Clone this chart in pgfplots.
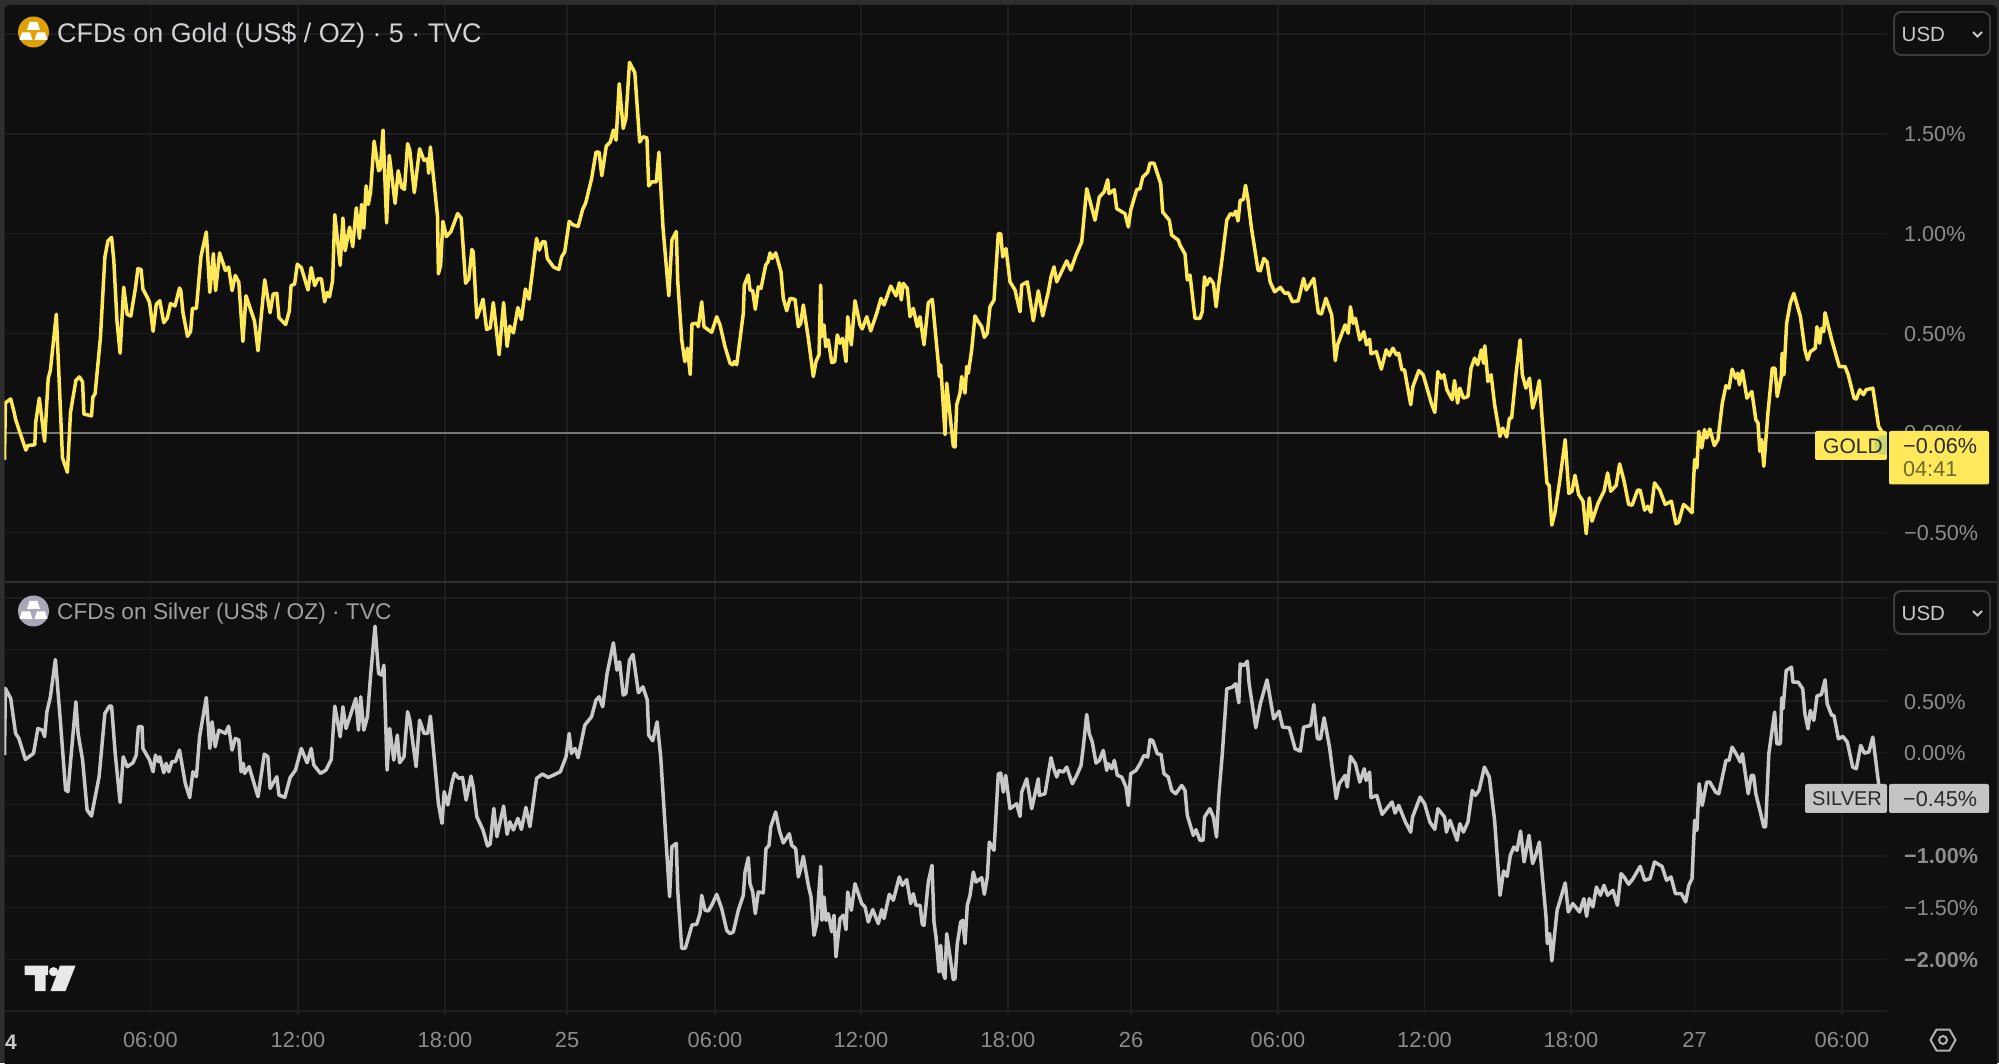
\documentclass[border=0pt]{standalone}
\usepackage{pgfplots}
\usepackage{pgfplotstable}
\usepackage{fontspec}
\setmainfont{Liberation Sans}
\pgfplotsset{compat=1.18}
\definecolor{bgmain}{HTML}{0F0F0F}
\definecolor{bgouter}{HTML}{2E2E2E}
\definecolor{gridc}{HTML}{1E1E1E}
\definecolor{sepc}{HTML}{2E2E2E}
\definecolor{goldline}{HTML}{FFE95A}
\definecolor{silverline}{HTML}{C8C8C8}
\definecolor{ticktxt}{HTML}{8C8C8C}
\definecolor{zeroline}{HTML}{787878}
\definecolor{cigold}{HTML}{E0A106}
\definecolor{cisilver}{HTML}{A9A7B8}
\definecolor{titlea}{HTML}{D1D1D6}
\definecolor{titleb}{HTML}{A0A0A0}
\definecolor{boxline}{HTML}{3C3C3C}
\definecolor{usdtxt}{HTML}{C8C8C8}
\definecolor{darktxt}{HTML}{2A2A2A}
\definecolor{dimtxt}{HTML}{6E6A28}
\definecolor{datetxt}{HTML}{C8C8C8}
\definecolor{iconc}{HTML}{B0B0B0}
\definecolor{silverbox}{HTML}{C4C4C4}
\definecolor{logoc}{HTML}{E8E8E8}
\definecolor{dotc}{HTML}{C8D76C}
\pgfplotstableread{
x v
4.5 -0.134
5.4 0.151
10.7 0.171
14.3 0.100
15.6 0.069
18.8 0.019
25.9 -0.086
27.7 -0.063
34.8 -0.059
35.7 0.053
39.3 0.175
44.6 -0.042
48.2 0.273
50.4 0.315
56.3 0.595
62.5 -0.125
67.4 -0.197
70.5 0.103
75.9 0.264
79.5 0.281
82.6 0.256
83.9 0.095
91.5 0.086
92.9 0.180
95.1 0.197
100.4 0.476
104.9 0.883
108 0.964
111.6 0.981
113.8 0.866
117 0.561
120.1 0.400
123.7 0.731
127.2 0.595
130.8 0.586
135.3 0.722
137.9 0.824
141.1 0.820
142.9 0.722
147.3 0.680
149.6 0.654
153.1 0.510
156.3 0.646
159.8 0.663
163.8 0.553
167.4 0.578
170.5 0.649
175 0.637
179.5 0.727
180.8 0.714
183 0.603
187.5 0.485
190.6 0.510
192.4 0.625
196.4 0.625
200.9 0.883
206.3 1.008
209.8 0.705
213.4 0.900
215.6 0.714
219.6 0.903
225.4 0.815
228.6 0.832
232.1 0.714
235.3 0.790
238.8 0.756
242.9 0.459
246 0.688
250 0.629
254.5 0.561
258 0.412
264.7 0.768
270.1 0.603
273.2 0.697
276.8 0.700
279 0.578
285.7 0.544
289.3 0.612
291.1 0.739
294.6 0.747
297.3 0.846
301.3 0.829
308 0.717
311.2 0.829
314.7 0.739
317.9 0.773
321.4 0.773
324.6 0.658
327.2 0.705
329.5 0.683
332.6 0.764
334.8 1.095
340.2 0.841
342.9 1.078
345.1 0.914
349.6 1.032
352.7 0.934
356.3 1.129
359.4 0.976
361.6 1.146
363.8 1.027
366.1 1.239
368.3 1.146
370.5 1.205
374.1 1.463
378.6 1.315
380.4 1.324
383 1.519
386.6 1.053
389.3 1.392
395.1 1.151
398.2 1.315
401.8 1.231
404.5 1.222
407.6 1.451
409.8 1.417
414.3 1.205
419.6 1.425
424.1 1.366
427.7 1.375
428.6 1.303
430.4 1.434
437.5 1.086
438.4 0.798
440.6 0.841
442.9 1.061
446.4 0.985
450.9 1.010
457.6 1.100
461.2 1.078
465.6 0.751
468.8 0.773
471.9 0.920
473.2 0.908
476.8 0.578
479.9 0.620
483 0.671
486.6 0.519
490.2 0.527
493.3 0.654
499.1 0.392
503.6 0.654
507.1 0.434
509.8 0.536
513.4 0.502
517.9 0.629
521.4 0.569
525.4 0.722
529 0.671
536.6 0.976
539.3 0.917
542.4 0.959
545.1 0.959
547.3 0.875
553.6 0.832
558.9 0.820
561.6 0.883
564.7 0.908
569.2 1.061
572.8 1.044
578.1 1.036
582.6 1.120
585.7 1.154
591.5 1.273
596 1.408
599.1 1.408
601.8 1.290
606.3 1.439
610.3 1.459
613.4 1.519
616.1 1.468
619.2 1.751
623.2 1.527
625.9 1.578
629.5 1.858
634.8 1.807
639.7 1.459
642.9 1.485
646.9 1.480
648.7 1.239
651.8 1.259
656.3 1.259
658.9 1.408
662.9 1.036
668.8 0.688
671.9 0.968
676.3 1.010
677.7 0.764
681.7 0.468
684.8 0.358
687.5 0.425
690.2 0.293
692 0.547
696.7 0.55
698.3 0.533
701.7 0.658
704 0.533
708.3 0.517
711.7 0.505
716.7 0.583
720 0.542
725 0.433
730 0.35
732.7 0.342
734.3 0.358
736.7 0.342
743.3 0.6
744.3 0.742
748.3 0.792
750 0.717
752.7 0.713
755.3 0.62
758.3 0.733
761 0.725
765.7 0.842
768 0.858
770 0.903
772 0.875
775.7 0.903
781 0.808
783.3 0.675
786.7 0.613
790 0.675
795 0.67
798.3 0.533
800.7 0.55
803.3 0.642
808.3 0.475
813.3 0.283
816 0.358
819 0.392
820.7 0.742
821.7 0.483
824 0.542
825.7 0.433
828.3 0.467
831.7 0.353
834.7 0.358
837.3 0.492
840 0.45
842.7 0.475
846 0.358
847.7 0.583
851.3 0.442
855 0.663
860 0.542
862.3 0.522
866.7 0.583
870.7 0.512
876.7 0.6
881 0.675
884 0.642
890.7 0.737
896 0.688
899.3 0.753
901.3 0.667
903.3 0.75
907.3 0.725
910 0.583
913.3 0.625
917.3 0.533
920 0.583
924 0.442
928.3 0.653
932.3 0.67
938.3 0.35
939.3 0.283
940.7 0.342
945 -0.008
946.7 0.25
953.3 -0.067
955 -0.07
956.7 0.142
960 0.2
961.7 0.283
965 0.2
966.7 0.333
968.3 0.3
971.7 0.417
975 0.587
978.3 0.558
981.7 0.533
984.3 0.48
987.3 0.5
990 0.633
994 0.667
998.3 1.0
1000.7 1.0
1002.7 0.883
1006 0.925
1010 0.758
1015 0.717
1020 0.608
1021.7 0.742
1027.3 0.758
1033.3 0.563
1038.3 0.713
1042.7 0.587
1048.3 0.708
1051 0.783
1054 0.833
1056.7 0.758
1066.7 0.863
1070.7 0.817
1076 0.892
1081.7 0.958
1086.7 1.225
1095 1.067
1099.3 1.183
1104 1.208
1107.7 1.27
1109 1.2
1114.3 1.22
1116.7 1.125
1125 1.1
1128.3 1.033
1130.7 1.117
1136.7 1.22
1140 1.225
1142.7 1.283
1147.7 1.308
1150 1.353
1154 1.353
1160.7 1.25
1162.7 1.108
1169.3 1.067
1171.7 0.992
1178.3 0.967
1180 0.942
1185 0.897
1187.3 0.767
1190 0.792
1195 0.575
1200 0.575
1202.2 0.608
1204.5 0.783
1206.7 0.742
1209.8 0.775
1213.4 0.75
1216.1 0.633
1218.8 0.75
1222.3 0.883
1226.8 1.067
1230.4 1.1
1233.5 1.092
1235.7 1.112
1238 1.063
1240.2 1.167
1243.3 1.17
1245.5 1.242
1247.8 1.175
1251.3 1.033
1258 0.817
1260.3 0.813
1263.8 0.875
1267 0.858
1270.1 0.758
1274.6 0.708
1280.4 0.73
1284.8 0.7
1288.4 0.703
1292.4 0.658
1298.2 0.663
1303.6 0.775
1306.3 0.717
1313.8 0.775
1318.3 0.603
1321.4 0.597
1325.9 0.675
1331.7 0.592
1335.3 0.363
1337.5 0.442
1345.1 0.542
1348.2 0.5
1350.4 0.633
1353.1 0.55
1355.4 0.575
1359.8 0.467
1363.8 0.508
1366.5 0.442
1369.6 0.47
1371 0.397
1376.3 0.408
1381.3 0.32
1386.2 0.417
1389.3 0.388
1392.9 0.425
1396.4 0.392
1398.7 0.4
1401.8 0.317
1404.5 0.317
1410.7 0.142
1412.9 0.233
1418.8 0.313
1423.2 0.292
1431.3 0.15
1434.8 0.103
1437.9 0.308
1441.1 0.275
1443.8 0.292
1446.9 0.217
1452.2 0.167
1454.5 0.263
1457.6 0.15
1459.8 0.225
1463.4 0.175
1467.9 0.183
1471 0.325
1474.6 0.375
1477.7 0.342
1481.3 0.417
1483.5 0.35
1484.8 0.437
1487.9 0.258
1491.1 0.292
1494.6 0.142
1500 -0.017
1502.7 0.025
1506.7 -0.02
1509.4 0.075
1511.6 0.075
1516.1 0.3
1520.1 0.467
1522.3 0.292
1525.9 0.225
1529.5 0.275
1532.6 0.125
1535.7 0.175
1539.3 0.263
1542.9 0.017
1546.9 -0.25
1549.1 -0.263
1551.8 -0.462
1554.9 -0.4
1559.4 -0.25
1565.2 -0.033
1568.8 -0.303
1571.9 -0.292
1575 -0.212
1578.6 -0.308
1583 -0.342
1586.2 -0.505
1589.3 -0.325
1592 -0.442
1598.2 -0.35
1604 -0.292
1607.6 -0.2
1610.7 -0.292
1616.1 -0.263
1619.6 -0.155
1624.1 -0.242
1628.6 -0.358
1632.1 -0.362
1637.5 -0.287
1640.2 -0.287
1644.6 -0.387
1647.8 -0.367
1650.9 -0.397
1654.5 -0.25
1659.8 -0.287
1665.2 -0.358
1671.4 -0.342
1675.9 -0.455
1678.6 -0.447
1683.5 -0.358
1687.5 -0.375
1692 -0.4
1694.6 -0.133
1696.9 -0.175
1698.7 0.008
1701.8 -0.075
1704.5 0.017
1706.7 -0.025
1709.8 0.02
1714.3 -0.063
1717.9 -0.033
1722.3 0.15
1725.9 0.237
1729 0.225
1732.1 0.32
1735.7 0.275
1737.9 0.3
1739.3 0.242
1742.4 0.313
1746.9 0.175
1751.8 0.208
1755.8 0.067
1758 0.05
1759.8 -0.092
1761.6 -0.033
1763.8 -0.167
1767.9 0.1
1772.3 0.325
1775 0.325
1777.2 0.183
1781.3 0.283
1782.1 0.4
1783.9 0.292
1786.6 0.55
1790.2 0.65
1793.8 0.7
1800.4 0.583
1804.9 0.417
1807.6 0.367
1810.3 0.408
1815.2 0.425
1816.9 0.533
1819.6 0.45
1821.4 0.525
1823.7 0.508
1825 0.603
1831.7 0.467
1839.3 0.333
1845.1 0.333
1848.2 0.292
1854 0.175
1856.3 0.17
1859.8 0.217
1863.4 0.192
1866 0.217
1872.8 0.225
1878.6 0.033
1881.7 0.008
1884 -0.06
}\golddata
\pgfplotstableread{
x v
4.5 -0.023
5.4 0.623
10.7 0.526
15.6 0.187
18.8 0.139
25.4 -0.065
33.5 -0.006
37.9 0.235
42.4 0.219
44.6 0.155
46.9 0.397
50.4 0.542
55.4 0.903
60.3 0.316
65.6 -0.361
67.9 -0.377
75.9 0.494
78.1 0.187
82.6 -0.071
87.1 -0.555
91.5 -0.613
99.1 -0.232
104.9 0.381
109.4 0.452
111.6 0.452
115.2 -0.006
120.1 -0.481
123.2 -0.039
127.2 -0.135
133 -0.097
136.2 -0.023
138.4 0.252
142 0.252
142.9 0.042
149.6 -0.071
153.1 -0.184
155.4 -0.023
158.5 -0.087
159.8 -0.039
163.8 -0.194
166.1 -0.103
168.8 -0.184
171.9 -0.087
175.4 -0.087
179.5 0.026
185.3 -0.297
189.7 -0.435
192.9 -0.184
196.4 -0.232
199.6 0.155
206.3 0.535
209.8 0.042
212.1 0.3
215.2 0.058
218.8 0.219
225.4 0.187
228.6 0.258
232.1 0.026
235.3 0.139
238.8 0.123
241.1 -0.184
243.3 -0.103
244.6 -0.2
249.1 -0.135
258 -0.426
264.3 -0.013
267.9 -0.039
270.1 -0.345
276.8 -0.232
279 -0.41
284.8 -0.432
290.2 -0.239
295.5 -0.168
301.3 0.042
307.1 -0.097
311.2 0.042
313.8 -0.119
320.5 -0.2
325.9 -0.168
331.3 -0.065
334.8 0.452
340.2 0.155
342.9 0.445
346 0.235
350.4 0.365
355.8 0.526
358.5 0.219
360.7 0.542
363.8 0.219
367.4 0.348
370.5 0.735
375 1.226
378.6 0.768
381.7 0.752
383.9 0.848
387.1 -0.168
389.7 0.235
393.8 -0.071
397.3 0.171
399.6 -0.097
404 -0.039
407.6 0.397
409.8 0.316
416.1 -0.135
419.6 0.316
424.1 0.187
427.7 0.187
430.4 0.355
438.4 -0.49
442 -0.684
444.2 -0.377
447.8 -0.506
451.8 -0.297
454.5 -0.2
458.9 -0.248
462.5 -0.239
466.1 -0.458
471 -0.226
473.2 -0.329
476.8 -0.619
483 -0.748
487.5 -0.903
490.2 -0.884
493.8 -0.539
496.9 -0.813
503.6 -0.516
507.1 -0.79
509.8 -0.668
513.4 -0.748
517.9 -0.635
521.4 -0.742
525.9 -0.529
529.9 -0.716
536.6 -0.248
542.4 -0.206
548.2 -0.239
553.6 -0.216
560.3 -0.184
566 -0.039
569.2 0.187
571.4 -0.006
575 0.042
578.1 -0.048
584.8 0.268
591.5 0.348
596 0.51
599.1 0.542
602.7 0.445
607.1 0.768
613.4 1.065
616.9 0.8
619.6 0.881
623.2 0.558
625.9 0.574
629.5 0.897
633 0.952
638.4 0.581
642.9 0.639
647.3 0.51
648.7 0.171
652.7 0.116
657.1 0.3
660.7 -0.039
669.6 -1.394
671.9 -0.91
676.3 -0.877
677.7 -1.329
681.7 -1.894
685.3 -1.894
692 -1.668
696.7 -1.661
700 -1.558
701.7 -1.381
705 -1.526
708.3 -1.532
711.7 -1.477
716.7 -1.371
721.7 -1.51
726.7 -1.719
730 -1.752
733.3 -1.735
738.3 -1.526
743.3 -1.381
745 -1.155
748.3 -1.016
750 -1.268
752.7 -1.348
755.3 -1.558
758.3 -1.348
763.3 -1.358
766 -0.929
769 -0.897
770.7 -0.719
775.7 -0.574
779.3 -0.752
783.3 -0.874
789.3 -0.784
791.7 -0.897
795.7 -0.929
798.3 -1.203
800.7 -1.123
803.3 -1.003
808.3 -1.284
811 -1.397
814 -1.768
816.7 -1.655
820.7 -1.1
822 -1.623
824 -1.397
826 -1.623
828.3 -1.558
831.7 -1.735
834 -1.574
836 -1.977
840 -1.606
843.3 -1.574
846 -1.713
847.7 -1.348
851.3 -1.526
855 -1.268
861.7 -1.461
865 -1.494
868.3 -1.639
872.7 -1.519
878.3 -1.655
881.7 -1.519
884 -1.606
889.3 -1.371
893.3 -1.429
899.3 -1.203
902.3 -1.284
906.7 -1.229
910.7 -1.461
913.3 -1.365
916 -1.477
920 -1.477
922.3 -1.661
924 -1.671
928.3 -1.252
932 -1.09
934 -1.639
936 -1.784
939 -2.123
940.7 -1.865
942.3 -2.106
945 -2.187
946.7 -1.752
953.3 -2.197
955 -2.187
957.3 -1.848
960.7 -1.639
962.7 -1.623
965 -1.848
967.3 -1.477
970 -1.381
973.3 -1.155
976 -1.252
981.7 -1.21
984.3 -1.371
987.3 -1.203
989.3 -0.865
994 -0.945
998.3 -0.203
1000.7 -0.197
1003.3 -0.381
1005.7 -0.219
1010 -0.542
1016.7 -0.494
1020 -0.616
1021.7 -0.381
1026.7 -0.252
1031.7 -0.542
1038.3 -0.252
1039.3 -0.413
1045 -0.397
1051 -0.048
1053.3 -0.139
1056.7 -0.235
1059 -0.171
1063.3 -0.187
1066.7 -0.139
1072.3 -0.3
1076.7 -0.219
1081 -0.123
1083.3 0.055
1086.7 0.371
1089.3 0.184
1092.3 0.103
1096 -0.1
1099.3 -0.074
1103.3 0.023
1106.7 -0.171
1108.3 -0.106
1111.7 -0.155
1114.3 -0.074
1117.3 -0.219
1121.7 -0.235
1126 -0.332
1128.3 -0.51
1130.7 -0.203
1136 -0.171
1140 -0.106
1144 -0.026
1147.7 -0.042
1150 0.126
1152.7 0.119
1157.3 -0.01
1161 -0.016
1164 -0.203
1168.3 -0.235
1171.7 -0.365
1175.7 -0.397
1181.7 -0.316
1185 -0.365
1187.3 -0.606
1193.3 -0.8
1196 -0.745
1200 -0.848
1203.1 -0.848
1204.5 -0.623
1209.8 -0.542
1213.4 -0.623
1216.5 -0.816
1218.8 -0.413
1222.3 -0.01
1226.8 0.619
1232.1 0.635
1235.7 0.668
1238.8 0.484
1240.2 0.861
1243.8 0.845
1247.3 0.887
1249.1 0.668
1255.8 0.242
1260.3 0.474
1267 0.706
1273.7 0.329
1279 0.403
1282.6 0.248
1289.3 0.242
1295.1 0.039
1300.4 0.016
1303.6 0.248
1310.7 0.265
1313.8 0.468
1317.4 0.135
1320.5 0.135
1324.1 0.339
1329.5 0.055
1336.2 -0.445
1339.3 -0.3
1345.1 -0.219
1347.3 -0.332
1350.4 -0.035
1355.4 -0.106
1359.8 -0.284
1364.3 -0.155
1366.1 -0.268
1369.6 -0.187
1371 -0.435
1376.8 -0.413
1382.1 -0.597
1392 -0.477
1395.1 -0.584
1398.7 -0.51
1405.4 -0.671
1410.7 -0.768
1412.5 -0.623
1420.1 -0.429
1424.6 -0.494
1429.9 -0.671
1434.8 -0.742
1437.9 -0.542
1444.6 -0.623
1446.4 -0.768
1450 -0.655
1457.1 -0.848
1459.8 -0.687
1463.4 -0.768
1467.9 -0.671
1472.3 -0.365
1475.4 -0.413
1479 -0.365
1484.4 -0.139
1489.3 -0.235
1494.6 -0.655
1500 -1.381
1503.6 -1.145
1507.1 -1.197
1510.3 -0.994
1513.8 -0.913
1517 -0.945
1520.5 -0.758
1524.1 -1.058
1529 -0.8
1532.6 -1.074
1535.7 -0.994
1539.3 -0.865
1546 -1.59
1547.3 -1.848
1549.6 -1.752
1551.8 -2.016
1557.1 -1.526
1565.2 -1.261
1568.3 -1.542
1572.8 -1.461
1579.5 -1.542
1583.9 -1.413
1586.6 -1.584
1589.3 -1.413
1592.9 -1.494
1596.4 -1.3
1600.4 -1.381
1604 -1.284
1607.6 -1.381
1612.9 -1.332
1617.4 -1.477
1621 -1.171
1624.1 -1.203
1628.6 -1.274
1633 -1.219
1640.2 -1.1
1644.6 -1.235
1650 -1.219
1654.5 -1.058
1662 -1.1
1666.5 -1.235
1671 -1.203
1675.4 -1.365
1681.3 -1.365
1685.7 -1.445
1688.8 -1.284
1692 -1.219
1694.6 -0.655
1696.9 -0.752
1699.1 -0.3
1702.2 -0.51
1706.7 -0.284
1709.8 -0.284
1715.6 -0.381
1718.8 -0.397
1725.9 -0.074
1729 -0.074
1732.1 0.055
1737.9 -0.042
1740.2 -0.09
1742.4 -0.01
1748.2 -0.397
1751.3 -0.219
1753.6 -0.219
1755.8 -0.397
1760.3 -0.574
1763.8 -0.719
1765.6 -0.719
1768.8 -0.01
1774.6 0.394
1776.8 0.087
1780.4 0.087
1781.7 0.532
1783 0.426
1786.2 0.797
1791.5 0.829
1792.9 0.684
1798.2 0.684
1802.7 0.619
1804.9 0.377
1808 0.232
1810.3 0.41
1813.8 0.313
1817 0.55
1821.4 0.565
1825 0.706
1827.2 0.474
1831.7 0.361
1833.9 0.361
1838.4 0.135
1842.9 0.158
1847.3 0.103
1852.7 -0.139
1856.3 -0.155
1860.7 0.071
1864.3 -0.003
1868.8 0.006
1872.8 0.152
1878.6 -0.3
1879.5 -0.332
1884 -0.45
}\silverdata
\pgfplotsset{
  panel/.style={
    scale only axis, width=1882.5pt,
    xmin=4.5, xmax=1887,
    axis line style={draw=none},
    tick style={draw=none},
    grid=major,
    grid style={gridc, line width=1.4pt},
    xtick={150.4,298,445,567,715,861,1008,1131,1278,1424.5,1571,1694.6,1842},
    yticklabel pos=right,
    yticklabel shift=17pt,
    yticklabel style={inner sep=0pt, anchor=west, yshift=-0.5pt, text=ticktxt, font=\fontsize{21.6}{25}\selectfont},
    xticklabel style={inner sep=0pt, anchor=north, text=ticktxt, font=\fontsize{21.8}{25}\selectfont},
    xticklabel shift=17pt,
    clip=true,
  }
}
\begin{document}
\begin{tikzpicture}[x=1pt,y=1pt]
\path[use as bounding box, fill=bgouter] (0,0) rectangle (1999,1063);
\begin{scope}
\clip (0,0) rectangle (1999,1063);
\fill[bgmain, rounded corners=5pt] (4.5,-10) rectangle (1997,1058);
\end{scope}
\begin{axis}[panel, anchor=south west, at={(4.5pt,481pt)}, height=577pt,
  ymin=-0.747, ymax=2.146,
  ytick={-0.5,0,0.5,1,1.5,2},
  yticklabels={{−0.50\%},{0.00\%},{0.50\%},{1.00\%},{1.50\%},{}},
  xticklabels={}]
\addplot[zeroline, line width=1.6pt, forget plot] coordinates {(4.5,0) (1887,0)};
\addplot[goldline, line width=3.5pt, line join=round] table[x=x,y=v] {\golddata};
\end{axis}
\begin{axis}[panel, anchor=south west, at={(4.5pt,48pt)}, height=433pt,
  ymin=-2.54, ymax=1.654,
  ytick={-2.5,-2,-1.5,-1,-0.5,0,0.5,1,1.5},
  yticklabels={{},{\textbf{−2.00\%}},{−1.50\%},{\textbf{−1.00\%}},{−0.50\%},{0.00\%},{0.50\%},{},{}},
  xticklabels={06:00,12:00,18:00,25,06:00,12:00,18:00,26,06:00,12:00,18:00,27,06:00}]
\addplot[silverline, line width=3.5pt, line join=round] table[x=x,y=v] {\silverdata};
\end{axis}
\begin{scope}[shift={(0,1063)},y=-1pt,x=1pt]
  % frame lines
  \draw[sepc, line width=2pt] (4.5,582) -- (1997,582);
  % titles
  \fill[cigold] (33.5,32) circle (15.5) ;
  \fill[white] (33.5-4,22)--(33.5+4,22)--(33.5+6.5,30)--(33.5-6.5,30)--cycle;
  \fill[white] (26-4,32.5)--(26+4,32.5)--(26+6.5,40)--(26-6.5,40)--cycle;
  \fill[white] (41-4,32.5)--(41+4,32.5)--(41+6.5,40)--(41-6.5,40)--cycle;
  \node[anchor=base west, inner sep=0pt, text=titlea, font=\fontsize{26.9}{30}\selectfont] at (57,43) {CFDs on Gold (US\$ / OZ) · 5 · TVC};
  \fill[cisilver] (33.5,611) circle (15.5);
  \fill[white] (33.5-4,601)--(33.5+4,601)--(33.5+6.5,609)--(33.5-6.5,609)--cycle;
  \fill[white] (26-4,611.5)--(26+4,611.5)--(26+6.5,619)--(26-6.5,619)--cycle;
  \fill[white] (41-4,611.5)--(41+4,611.5)--(41+6.5,619)--(41-6.5,619)--cycle;
  \node[anchor=base west, inner sep=0pt, text=titleb, font=\fontsize{22.7}{27}\selectfont] at (57,620) {CFDs on Silver (US\$ / OZ) · TVC};
  % USD boxes
  \foreach \yy in {12,591}{
    \draw[draw=boxline, line width=2pt, fill=bgmain, rounded corners=7pt] (1894,\yy) rectangle (1990,\yy+43);
    \node[anchor=base west, inner sep=0pt, text=usdtxt, font=\fontsize{20.5}{24}\selectfont] at (1901.5,\yy+29.5) {USD};
    \draw[usdtxt, line width=2pt] (1973,\yy+20) -- (1977.5,\yy+24.5) -- (1982,\yy+20);
  }
  % Gold labels
  \fill[goldline, rounded corners=2pt] (1815,431) rectangle (1887,460);
  \fill[dotc] (1884,445) circle (10);
  \fill[bgmain] (1887,431) rectangle (1889,460);
  \fill[goldline, rounded corners=2pt] (1889,431) rectangle (1989,484.5);
  \node[anchor=west, inner sep=0pt, text=darktxt, font=\fontsize{21}{25}\selectfont] at (1823,446) {GOLD};
  \node[anchor=base west, inner sep=0pt, text=darktxt, font=\fontsize{21.6}{25}\selectfont] at (1903,453.5) {−0.06\%};
  \node[anchor=base west, inner sep=0pt, text=dimtxt, font=\fontsize{21.6}{25}\selectfont] at (1903,477) {04:41};
  % Silver labels
  \fill[silverbox, rounded corners=2pt] (1805,784) rectangle (1887,813);
  \fill[silverbox, rounded corners=2pt] (1889,784) rectangle (1989,813);
  \node[anchor=west, inner sep=0pt, text=darktxt, font=\fontsize{20}{24}\selectfont] at (1812,799) {SILVER};
  \node[anchor=base west, inner sep=0pt, text=darktxt, font=\fontsize{21.6}{25}\selectfont] at (1903,806.5) {−0.45\%};
  % TV logo
  \fill[logoc] (24.5,965.7)--(48,965.7)--(48,975)--(45.5,975)--(45.5,991)--(34.8,991)--(34.8,975)--(24.5,975)--cycle;
  \fill[logoc] (53.6,971.7) circle (4.6);
  \fill[logoc] (60,965.7)--(75.5,965.7)--(65.5,991)--(50.5,991)--cycle;
  % clipped date and settings
  \node[anchor=base west, inner sep=0pt, text=datetxt, font=\bfseries\fontsize{21}{25}\selectfont] at (5,1049) {4};
  \draw[iconc, line width=2pt] (1930.5,1040)--(1936.5,1029.5)--(1949.5,1029.5)--(1955.5,1040)--(1949.5,1050.5)--(1936.5,1050.5)--cycle;
  \draw[iconc, line width=2pt] (1943,1040) circle (4);
\end{scope}
\end{tikzpicture}
\end{document}
